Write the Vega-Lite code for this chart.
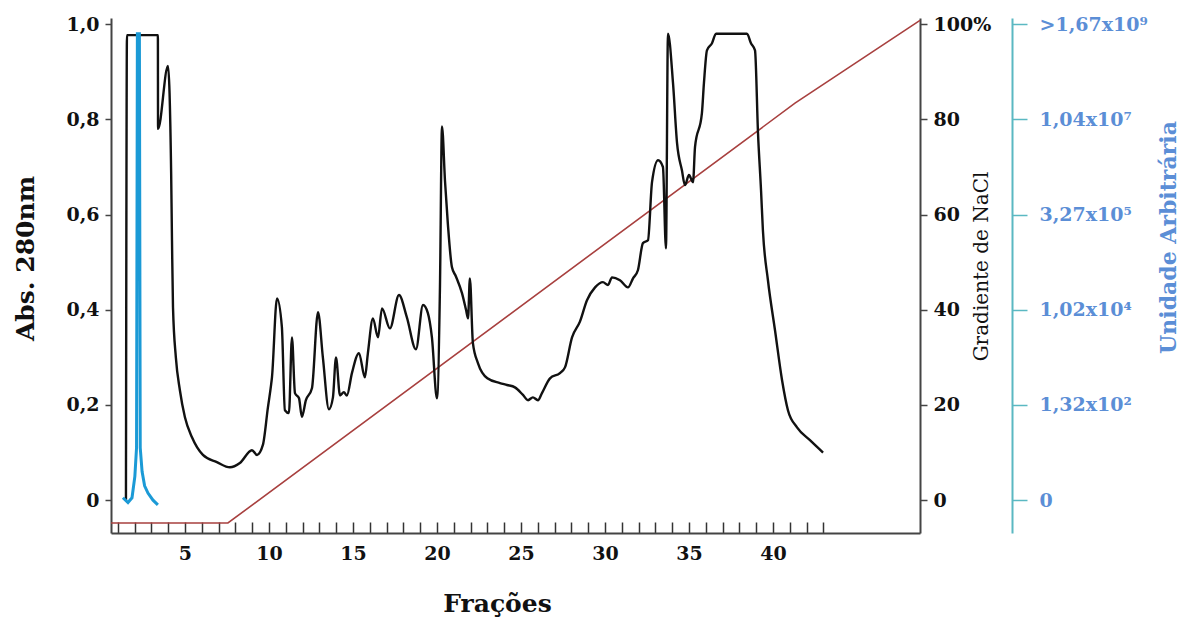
{
  "$schema": "https://vega.github.io/schema/vega-lite/v6.json",
  "width": 809,
  "height": 515,
  "autosize": "none",
  "padding": {"left": 111, "top": 18, "right": 273, "bottom": 84},
  "background": "white",
  "config": {"view": {"stroke": null}, "font": "DejaVu Serif"},
  "datasets": {
    "abs": [
      {"f": 1.49, "a": 0.0}, {"f": 1.55, "a": 0.977}, {"f": 3.39, "a": 0.977}, {"f": 3.4, "a": 0.78},
      {"f": 3.99, "a": 0.912}, {"f": 4.18, "a": 0.687}, {"f": 4.23, "a": 0.546}, {"f": 4.29, "a": 0.405},
      {"f": 4.46, "a": 0.3}, {"f": 4.7, "a": 0.231}, {"f": 5.0, "a": 0.174}, {"f": 5.42, "a": 0.132},
      {"f": 6.07, "a": 0.095}, {"f": 6.9, "a": 0.08}, {"f": 7.68, "a": 0.069}, {"f": 8.27, "a": 0.078},
      {"f": 8.99, "a": 0.105}, {"f": 9.29, "a": 0.095}, {"f": 9.64, "a": 0.116}, {"f": 9.94, "a": 0.195},
      {"f": 10.12, "a": 0.24}, {"f": 10.18, "a": 0.258}, {"f": 10.48, "a": 0.424}, {"f": 10.77, "a": 0.364},
      {"f": 10.95, "a": 0.189}, {"f": 11.19, "a": 0.183}, {"f": 11.37, "a": 0.342}, {"f": 11.55, "a": 0.225},
      {"f": 11.79, "a": 0.214}, {"f": 11.96, "a": 0.175}, {"f": 12.2, "a": 0.21}, {"f": 12.56, "a": 0.235},
      {"f": 12.92, "a": 0.395}, {"f": 13.21, "a": 0.3}, {"f": 13.57, "a": 0.191}, {"f": 13.81, "a": 0.216},
      {"f": 13.99, "a": 0.3}, {"f": 14.23, "a": 0.22}, {"f": 14.46, "a": 0.227}, {"f": 14.64, "a": 0.22},
      {"f": 14.94, "a": 0.267}, {"f": 15.36, "a": 0.309}, {"f": 15.71, "a": 0.258}, {"f": 15.89, "a": 0.309},
      {"f": 16.19, "a": 0.382}, {"f": 16.49, "a": 0.342}, {"f": 16.73, "a": 0.403}, {"f": 17.2, "a": 0.361},
      {"f": 17.74, "a": 0.431}, {"f": 18.21, "a": 0.384}, {"f": 18.75, "a": 0.317}, {"f": 19.17, "a": 0.41},
      {"f": 19.46, "a": 0.393}, {"f": 19.7, "a": 0.342}, {"f": 20.0, "a": 0.214}, {"f": 20.18, "a": 0.45},
      {"f": 20.3, "a": 0.785}, {"f": 20.48, "a": 0.67}, {"f": 20.65, "a": 0.58}, {"f": 20.89, "a": 0.49},
      {"f": 21.13, "a": 0.47}, {"f": 21.49, "a": 0.435}, {"f": 21.73, "a": 0.4}, {"f": 21.85, "a": 0.382},
      {"f": 21.96, "a": 0.466}, {"f": 22.14, "a": 0.33}, {"f": 22.44, "a": 0.288}, {"f": 23.0, "a": 0.256},
      {"f": 23.75, "a": 0.246}, {"f": 24.17, "a": 0.242}, {"f": 24.64, "a": 0.237}, {"f": 25.12, "a": 0.221},
      {"f": 25.42, "a": 0.21}, {"f": 25.71, "a": 0.216}, {"f": 26.01, "a": 0.21}, {"f": 26.25, "a": 0.225},
      {"f": 26.73, "a": 0.256}, {"f": 27.32, "a": 0.267}, {"f": 27.62, "a": 0.279}, {"f": 28.04, "a": 0.342},
      {"f": 28.51, "a": 0.375}, {"f": 28.93, "a": 0.42}, {"f": 29.41, "a": 0.447}, {"f": 29.88, "a": 0.458},
      {"f": 30.18, "a": 0.452}, {"f": 30.42, "a": 0.468}, {"f": 30.89, "a": 0.462}, {"f": 31.37, "a": 0.447},
      {"f": 31.67, "a": 0.466}, {"f": 31.96, "a": 0.483}, {"f": 32.26, "a": 0.54}, {"f": 32.56, "a": 0.546},
      {"f": 32.8, "a": 0.668}, {"f": 33.16, "a": 0.714}, {"f": 33.45, "a": 0.7}, {"f": 33.63, "a": 0.529},
      {"f": 33.75, "a": 0.98}, {"f": 34.05, "a": 0.876}, {"f": 34.29, "a": 0.75}, {"f": 34.58, "a": 0.693},
      {"f": 34.76, "a": 0.662}, {"f": 35.0, "a": 0.683}, {"f": 35.24, "a": 0.668}, {"f": 35.36, "a": 0.742},
      {"f": 35.77, "a": 0.813}, {"f": 35.89, "a": 0.876}, {"f": 36.07, "a": 0.945}, {"f": 36.37, "a": 0.96},
      {"f": 36.61, "a": 0.98}, {"f": 38.45, "a": 0.98}, {"f": 38.69, "a": 0.96}, {"f": 38.93, "a": 0.945},
      {"f": 39.11, "a": 0.77}, {"f": 39.29, "a": 0.65}, {"f": 39.4, "a": 0.567}, {"f": 39.7, "a": 0.462},
      {"f": 40.12, "a": 0.357}, {"f": 40.54, "a": 0.252}, {"f": 40.89, "a": 0.189}, {"f": 41.43, "a": 0.153},
      {"f": 42.2, "a": 0.126}, {"f": 42.98, "a": 0.1}
    ],
    "grad": [
      {"f": 0.6, "g": -4.8}, {"f": 7.56, "g": -4.8}, {"f": 41.31, "g": 83.4}, {"f": 48.75, "g": 100.8}
    ],
    "ua": [
      {"f": 1.31, "u": 0.5}, {"f": 1.61, "u": -0.5}, {"f": 1.85, "u": 0.5}, {"f": 2.02, "u": 5},
      {"f": 2.12, "u": 11}, {"f": 2.17, "u": 98}, {"f": 2.29, "u": 98}, {"f": 2.34, "u": 11},
      {"f": 2.45, "u": 6}, {"f": 2.6, "u": 3}, {"f": 2.8, "u": 1.5}, {"f": 3.1, "u": 0}, {"f": 3.39, "u": -1}
    ]
  },
  "layer": [
    {
      "data": {"name": "grad"},
      "mark": {"type": "line", "color": "#a8403f", "strokeWidth": 1.6},
      "encoding": {
        "x": {
          "field": "f", "type": "quantitative",
          "scale": {"domain": [0.6, 48.75], "nice": false, "zero": false},
          "axis": {
            "values": [1,2,3,4,5,6,7,8,9,10,11,12,13,14,15,16,17,18,19,20,21,22,23,24,25,26,27,28,29,30,31,32,33,34,35,36,37,38,39,40,41,42,43],
            "tickCount": 200,
            "labelExpr": "datum.value % 5 == 0 ? format(datum.value, 'd') : ''",
            "labelOverlap": false,
            "grid": false, "domainColor": "#444", "domainWidth": 2, "tickColor": "#333", "tickWidth": 1.5, "tickSize": -11,
            "labelFont": "DejaVu Serif", "labelFontWeight": "bold", "labelFontSize": 19, "labelColor": "#111", "labelPadding": 22,
            "title": "Frações", "titleFont": "DejaVu Serif", "titleFontWeight": "bold", "titleFontSize": 25, "titleColor": "#111",
            "titleX": 386, "titleY": 70, "titleAlign": "center", "titleBaseline": "middle"
          }
        },
        "y": {
          "field": "g", "type": "quantitative",
          "scale": {"domain": [-6.9, 101.3], "nice": false, "zero": false},
          "axis": {
            "orient": "right", "values": [0, 20, 40, 60, 80, 100],
            "labelExpr": "datum.value == 100 ? '100%' : datum.label",
            "grid": false, "domainColor": "#444", "domainWidth": 2, "tickColor": "#444", "tickWidth": 1.5, "tickSize": 7,
            "labelFont": "DejaVu Serif", "labelFontWeight": "bold", "labelFontSize": 19, "labelColor": "#111", "labelPadding": 6,
            "title": "Gradiente de NaCl", "titleFont": "DejaVu Serif", "titleFontWeight": "normal", "titleFontSize": 20,
            "titleColor": "#111", "titleAngle": -90, "titleX": 61, "titleY": 248, "titleAlign": "center", "titleBaseline": "middle"
          }
        }
      }
    },
    {
      "data": {"name": "abs"},
      "mark": {"type": "line", "color": "#111", "strokeWidth": 2.4, "interpolate": "monotone"},
      "encoding": {
        "x": {"field": "f", "type": "quantitative", "scale": {"domain": [0.6, 48.75], "nice": false, "zero": false}},
        "y": {
          "field": "a", "type": "quantitative",
          "scale": {"domain": [-0.069, 1.013], "nice": false, "zero": false},
          "axis": {
            "orient": "left", "values": [0, 0.2, 0.4, 0.6, 0.8, 1],
            "labelExpr": "datum.value == 0 ? '0' : replace(format(datum.value, '.1f'), '.', ',')",
            "grid": false, "domainColor": "#444", "domainWidth": 2, "tickColor": "#444", "tickWidth": 1.5, "tickSize": 6,
            "labelFont": "DejaVu Serif", "labelFontWeight": "bold", "labelFontSize": 19, "labelColor": "#111", "labelPadding": 6,
            "title": "Abs. 280nm", "titleFont": "DejaVu Serif", "titleFontWeight": "bold", "titleFontSize": 25, "titleColor": "#111",
            "titleAngle": -90, "titleX": -86, "titleY": 240, "titleAlign": "center", "titleBaseline": "middle"
          }
        }
      }
    },
    {
      "data": {"name": "ua"},
      "mark": {"type": "line", "color": "#1b9ad6", "strokeWidth": 3},
      "encoding": {
        "x": {"field": "f", "type": "quantitative", "scale": {"domain": [0.6, 48.75], "nice": false, "zero": false}},
        "y": {
          "field": "u", "type": "quantitative",
          "scale": {"domain": [-6.9, 101.3], "nice": false, "zero": false},
          "axis": {
            "orient": "right", "offset": 92, "values": [0, 20, 40, 60, 80, 100],
            "labelExpr": "datum.value == 100 ? '>1,67x10⁹' : datum.value == 80 ? '1,04x10⁷' : datum.value == 60 ? '3,27x10⁵' : datum.value == 40 ? '1,02x10⁴' : datum.value == 20 ? '1,32x10²' : '0'",
            "grid": false, "domainColor": "#5ab8c2", "domainWidth": 2, "tickColor": "#5ab8c2", "tickWidth": 1.5, "tickSize": 15,
            "labelFont": "DejaVu Serif", "labelFontWeight": "bold", "labelFontSize": 19, "labelColor": "#5b8ed6", "labelPadding": 12,
            "title": "Unidade Arbitrária", "titleFont": "DejaVu Serif", "titleFontWeight": "bold", "titleFontSize": 22, "titleColor": "#5b8ed6",
            "titleAngle": -90, "titleX": 156, "titleY": 219, "titleAlign": "center", "titleBaseline": "middle"
          }
        }
      }
    }
  ],
  "resolve": {"scale": {"y": "independent"}, "axis": {"y": "independent"}}
}
